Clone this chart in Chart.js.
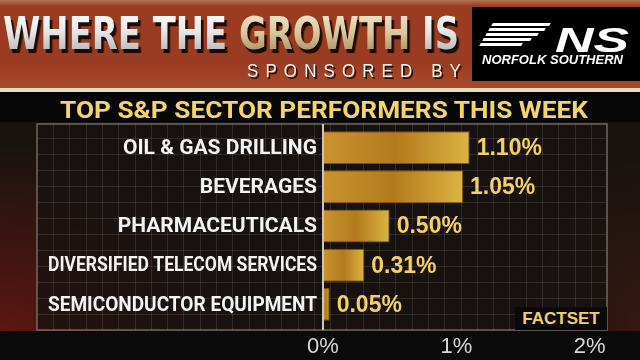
<!doctype html>
<html lang="en">
<head>
<meta charset="utf-8">
<title>Where the growth is</title>
<script src="https://cdn.jsdelivr.net/npm/chart.js@4.4.1/dist/chart.umd.min.js"></script>
<style>
  body { margin: 0; width: 640px; height: 360px; overflow: hidden; position: relative;
         font-family: "Liberation Sans", Arial, sans-serif;
         background:
           radial-gradient(ellipse 240px 190px at 0px 335px, #5e1712 0, rgba(94,23,18,0) 100%),
           radial-gradient(ellipse 120px 160px at 640px 320px, #361812 0, rgba(54,24,18,0) 100%),
           #19130f; }
  #header { position: absolute; left: 0; top: 0; width: 640px; height: 88px;
            background: linear-gradient(#b47656 0, #9a3c21 6px, #9a3c21 62px, #a8482b 86px); }
  #rule { position: absolute; left: 0; top: 88px; width: 640px; height: 4px; background: #e8dcbc; }
  #band { position: absolute; left: 0; top: 92px; width: 640px; height: 30px; background: #070707; }
  .fit { position: absolute; white-space: nowrap; transform-origin: left top; line-height: 1; }
  #title { left: 3px; top: 8px; font: bold 44px "DejaVu Sans Condensed", sans-serif;
           filter: drop-shadow(3px 4px 0 #1c0b06); }
  #title span { -webkit-background-clip: text; background-clip: text; color: transparent; }
  .silver { background-image: linear-gradient(#ffffff 0, #e8e8e8 45%, #a9a9a9 100%); }
  .gold { background-image: linear-gradient(#f4ecd6 0, #d8c69a 50%, #9c8050 100%); }
  #sponsor { left: 247px; top: 61px; font-size: 19px; letter-spacing: 8px; color: #f2f2f2;
             text-shadow: 2px 2px 0 #2a0e06; }
  #logo { position: absolute; left: 472px; top: 7px; width: 168px; height: 74px; background: #000; }
  .stripe { position: absolute; height: 3px; background: #fff; transform: skewX(-30deg); }
  #ns { left: 83px; top: 13px; font: italic bold 35px "Liberation Sans", sans-serif; color: #fff; }
  #norfolk { left: 10px; top: 46px; font: italic bold 12px "Liberation Sans", sans-serif; color: #fff; }
  #subtitle { left: 60px; top: 96px; font: bold 24px Roboto, "DejaVu Sans Condensed", sans-serif;
              color: #f3d36c; }
  #chart { position: absolute; left: 0; top: 120px; }
  #source { position: absolute; left: 515px; top: 307px; width: 92px; height: 23px; background: #0a0a0a;
            color: #f0cf66; font: bold 17px "Liberation Sans", sans-serif; line-height: 24px; text-align: center; }
</style>
</head>
<body>
  <div id="header"></div>
  <div id="rule"></div>
  <div id="band"></div>
  <div id="title" class="fit"><span class="silver">WHERE THE </span><span class="gold">GROWTH</span><span class="silver"> IS</span></div>
  <div id="sponsor" class="fit">SPONSORED BY</div>
  <div id="logo">
    <div class="stripe" style="left:20px;top:16px;width:58px"></div>
    <div class="stripe" style="left:17px;top:21px;width:56px"></div>
    <div class="stripe" style="left:14px;top:26px;width:52px"></div>
    <div class="stripe" style="left:11px;top:31px;width:48px"></div>
    <div class="stripe" style="left:8px;top:36px;width:42px"></div>
    <div id="ns" class="fit">NS</div>
    <div id="norfolk" class="fit">NORFOLK SOUTHERN</div>
  </div>
  <div id="subtitle" class="fit">TOP S&amp;P SECTOR PERFORMERS THIS WEEK</div>
  <canvas id="chart" width="640" height="240"></canvas>
  <div id="source">FACTSET</div>

<script>
// chart data
const sectors = ['OIL & GAS DRILLING', 'BEVERAGES', 'PHARMACEUTICALS', 'DIVERSIFIED TELECOM SERVICES', 'SEMICONDUCTOR EQUIPMENT'];
const weeklyChange = [1.10, 1.05, 0.50, 0.31, 0.05];
const tickValues = [0, 1, 2];
const tickLabels = ['0%', '1%', '2%'];

// squeeze header texts to the width they take in the picture
const fitWidth = (id, w) => {
    const el = document.getElementById(id);
    const natural = el.getBoundingClientRect().width;
    el.style.transform = 'scaleX(' + (w / natural) + ')';
};
fitWidth('title', 456);
fitWidth('sponsor', 221);
fitWidth('ns', 74);
fitWidth('norfolk', 141);
fitWidth('subtitle', 528);

const ZERO_X = 323;
const LABEL_MAX_W = 269;   // long names are squeezed like on the TV graphic
const PANEL = { left: 37, top: 4, right: 607, bottom: 210 };

// panel with fine grid behind the bars
const panelPlugin = {
    id: 'panel',
    beforeDraw(chart) {
        const c = chart.ctx;
        c.save();
        c.fillStyle = 'rgba(22,18,16,0.8)';
        c.fillRect(PANEL.left, PANEL.top, PANEL.right - PANEL.left, PANEL.bottom - PANEL.top);
        c.strokeStyle = 'rgba(120,110,100,0.28)';
        c.lineWidth = 1;
        c.beginPath();
        for (let x = PANEL.left + 16; x < PANEL.right; x += 16.3) {
            c.moveTo(Math.round(x) + 0.5, PANEL.top);
            c.lineTo(Math.round(x) + 0.5, PANEL.bottom);
        }
        for (let y = PANEL.top + 14; y < PANEL.bottom; y += 16) {
            c.moveTo(PANEL.left, Math.round(y) + 0.5);
            c.lineTo(PANEL.right, Math.round(y) + 0.5);
        }
        c.stroke();
        c.strokeStyle = 'rgba(150,140,128,0.7)';
        c.lineWidth = 1.5;
        c.strokeRect(PANEL.left, PANEL.top, PANEL.right - PANEL.left, PANEL.bottom - PANEL.top);
        // dark strip under the panel for the axis labels
        c.fillStyle = '#0b0b0b';
        c.fillRect(0, PANEL.bottom + 1, 640, 240 - PANEL.bottom);
        c.restore();
    },
    afterDatasetsDraw(chart) {
        const c = chart.ctx;
        const x0 = chart.scales.x.getPixelForValue(0);
        const ys = chart.scales.y;
        c.save();
        c.strokeStyle = '#cbc4bc';
        c.lineWidth = 2;
        c.beginPath();
        c.moveTo(x0, PANEL.top);
        c.lineTo(x0, PANEL.bottom);
        c.stroke();
        c.textBaseline = 'middle';
        // sector names, placed by the category scale
        c.font = 'bold 21px Roboto, "DejaVu Sans Condensed", sans-serif';
        c.fillStyle = '#f4f4f4';
        c.textAlign = 'right';
        sectors.forEach((name, i) => {
            c.fillText(name, ys.right - 6, ys.getPixelForTick(i) + 1, LABEL_MAX_W);
        });
        // value labels next to the bars
        c.font = 'bold 23px "Liberation Sans", Arial, sans-serif';
        c.fillStyle = '#f2d064';
        c.textAlign = 'left';
        chart.getDatasetMeta(0).data.forEach((bar, i) => {
            c.fillText(weeklyChange[i].toFixed(2) + '%', bar.x + 7, bar.y + 1);
        });
        c.restore();
    }
};

const barFill = (ctx) => {
    const chart = ctx.chart;
    if (!chart.chartArea || ctx.dataIndex === undefined) return '#c08a24';
    const xs = chart.scales.x;
    const a = xs.getPixelForValue(0);
    const b = xs.getPixelForValue(weeklyChange[ctx.dataIndex]);
    const g = chart.ctx.createLinearGradient(a, 0, Math.max(b, a + 1), 0);
    g.addColorStop(0, '#c99430');
    g.addColorStop(0.5, '#b27a1c');
    g.addColorStop(1, '#dcb444');
    return g;
};

new Chart(document.getElementById('chart'), {
    type: 'bar',
    data: {
        labels: sectors,
        datasets: [{
            data: weeklyChange,
            backgroundColor: barFill,
            borderColor: '#7e540e',
            borderWidth: 1,
            borderSkipped: 'left',
            barPercentage: 0.84,
            categoryPercentage: 1
        }]
    },
    options: {
        indexAxis: 'y',
        responsive: false,
        animation: false,
        layout: { padding: { top: 8, right: 33, left: 0, bottom: 0 } },
        plugins: { legend: { display: false }, tooltip: { enabled: false } },
        scales: {
            x: {
                min: 0,
                max: 2.13,
                afterBuildTicks: (s) => { s.ticks = tickValues.map(v => ({ value: v })); },
                afterFit: (s) => { s.height = 36; },
                grid: { display: false, drawTicks: false },
                border: { display: false },
                ticks: {
                    callback: (v) => tickLabels[tickValues.indexOf(v)],
                    color: '#d8d8d8',
                    font: { family: '"Liberation Sans", Arial, sans-serif', size: 22 },
                    padding: 10,
                    maxRotation: 0
                }
            },
            y: {
                afterFit: (s) => { s.width = ZERO_X; },
                grid: { display: false, drawTicks: false },
                border: { display: false },
                ticks: { display: false }
            }
        }
    },
    plugins: [panelPlugin]
});
</script>
</body>
</html>
